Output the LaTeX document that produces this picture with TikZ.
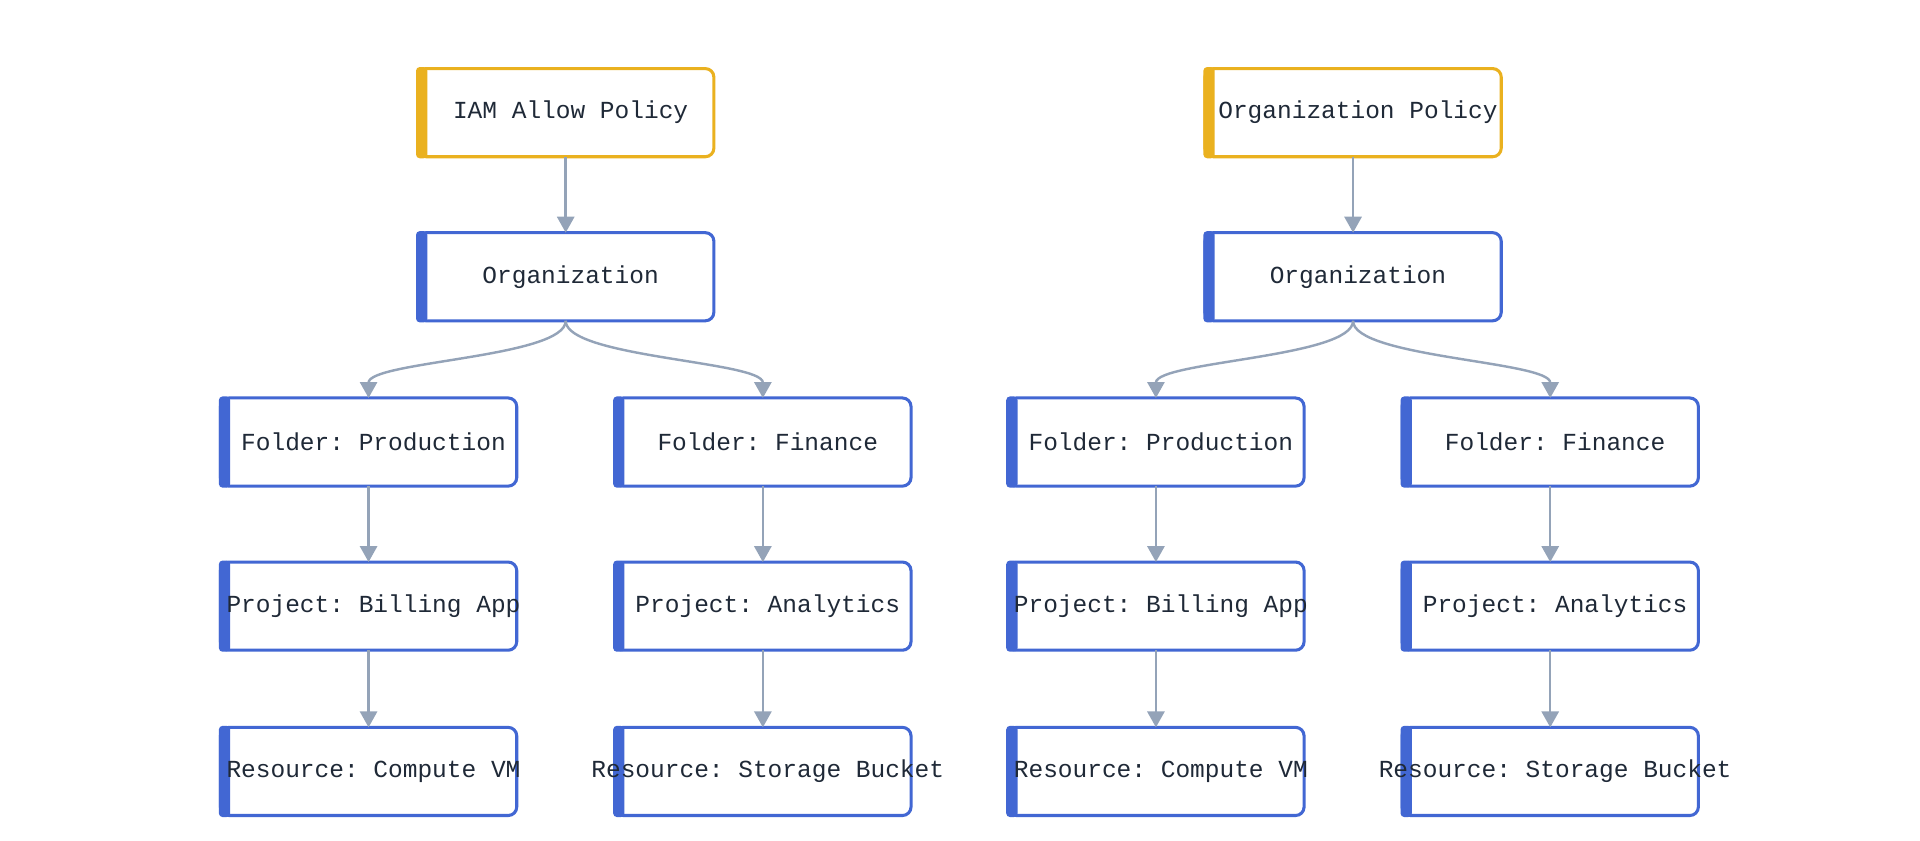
\documentclass[tikz,border=0pt]{standalone}
\usepackage{fontspec}
\setmonofont{Liberation Mono}
\usetikzlibrary{arrows.meta}
\definecolor{yel}{HTML}{EAB11F}
\definecolor{blu}{HTML}{4267D3}
\definecolor{edge}{HTML}{94A3B8}
\definecolor{txt}{HTML}{1F2937}
\begin{document}
\begin{tikzpicture}[x=1pt,y=-1pt,
 box/.style={draw=#1, line width=2.5pt, rounded corners=7pt, minimum width=242pt, minimum height=72pt, outer sep=0pt, fill=white},
 lab/.style={font=\ttfamily\fontsize{20}{24}\selectfont, text=txt},
 arr/.style={draw=edge, line width=2pt, -{Triangle[width=14pt,length=13pt]}}]
\useasboundingbox (0,0) rectangle (1568,686);
\newcommand\bx[5]{% name, x, y, color, text
 \node[box=#4] (#1) at (#2,#3) {};
 \fill[#4, rounded corners=3pt] ([xshift=-1.25pt,yshift=1.25pt]#1.north west) rectangle ([xshift=8pt,yshift=-1.25pt]#1.south west);
 \node[lab] (#1t) at ([xshift=4pt]#1.center) {#5};}
\foreach \p/\ox/\pt in {a/0/IAM Allow Policy, b/643/Organization Policy}{
 \bx{\p pol}{462+\ox}{92}{yel}{\pt}
 \bx{\p org}{462+\ox}{226}{blu}{Organization}
 \bx{\p fp}{301+\ox}{361}{blu}{Folder: Production}
 \bx{\p ff}{623+\ox}{361}{blu}{Folder: Finance}
 \bx{\p pb}{301+\ox}{495}{blu}{Project: Billing App}
 \bx{\p pa}{623+\ox}{495}{blu}{Project: Analytics}
 \bx{\p rc}{301+\ox}{630}{blu}{Resource: Compute VM}
 \bx{\p rs}{623+\ox}{630}{blu}{Resource: Storage Bucket}
 \draw[arr] (\p pol.south) -- (\p org.north);
 \draw[arr] (\p org.south) .. controls +(0,30) and +(0,-30) .. (\p fp.north);
 \draw[arr] (\p org.south) .. controls +(0,30) and +(0,-30) .. (\p ff.north);
 \draw[arr] (\p fp.south) -- (\p pb.north);
 \draw[arr] (\p ff.south) -- (\p pa.north);
 \draw[arr] (\p pb.south) -- (\p rc.north);
 \draw[arr] (\p pa.south) -- (\p rs.north);
}
\end{tikzpicture}
\end{document}
